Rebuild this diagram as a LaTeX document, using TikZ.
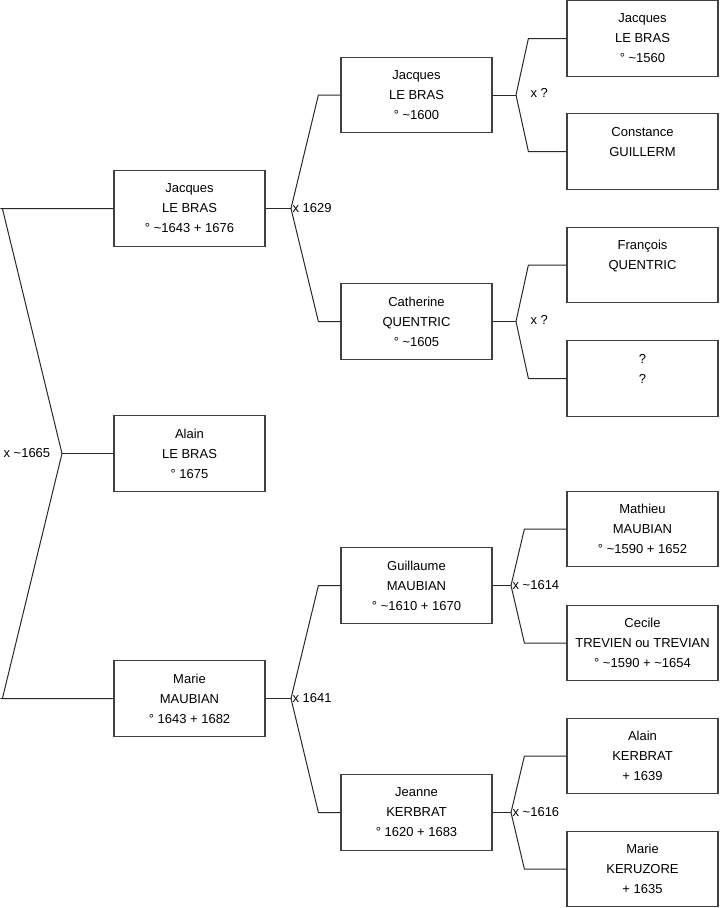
\documentclass[tikz,border=0pt]{standalone}
\usepackage{fontspec}
\setmainfont{Liberation Sans}
\usetikzlibrary{positioning}
\definecolor{boxline}{RGB}{64,64,64}
\definecolor{linkline}{RGB}{40,40,40}

\begin{document}
\begin{tikzpicture}[x=0.75pt,y=-0.75pt,
    person/.style={draw=boxline, line width=0.9pt, minimum width=113.25pt, minimum height=56.6pt,
      inner sep=0pt, align=center, font=\fontsize{9.75}{15}\selectfont},
    link/.style={draw=linkline, line width=0.75pt},
    mlabel/.style={inner sep=1pt, font=\fontsize{9.75}{12}\selectfont}]
    \useasboundingbox (0,0) rectangle (719,908);

    % generation 1
    \node[person] (jacquesA) at (189.5,208.5) {Jacques\\LE BRAS\\° \textasciitilde1643 + 1676};
    \node[person] (alain)    at (189.5,453.5) {Alain\\LE BRAS\\° 1675};
    \node[person] (marie)    at (189.5,698.5) {Marie\\MAUBIAN\\° 1643 + 1682};

    % generation 2
    \node[person] (jacquesB)  at (416.5,95)  {Jacques\\LE BRAS\\° \textasciitilde1600};
    \node[person] (catherine) at (416.5,321.5) {Catherine\\QUENTRIC\\° \textasciitilde1605};
    \node[person] (guillaume) at (416.5,585.5) {Guillaume\\MAUBIAN\\° \textasciitilde1610 + 1670};
    \node[person] (jeanne)    at (416.5,812.5) {Jeanne\\KERBRAT\\° 1620 + 1683};

    % generation 3
    \node[person] (jacquesC)  at (642.5,38.5)  {Jacques\\LE BRAS\\° \textasciitilde1560};
    \node[person] (constance) at (642.5,151.5) {Constance\\GUILLERM\\\mbox{}};
    \node[person] (francois)  at (642.5,265)   {François\\QUENTRIC\\\mbox{}};
    \node[person] (unknown)   at (642.5,378.5) {?\\?\\\mbox{}};
    \node[person] (mathieu)   at (642.5,529)   {Mathieu\\MAUBIAN\\° \textasciitilde1590 + 1652};
    \node[person] (cecile)    at (642.5,643)   {Cecile\\TREVIEN ou TREVIAN\\° \textasciitilde1590 + \textasciitilde1654};
    \node[person] (alainK)    at (642.5,756)   {Alain\\KERBRAT\\+ 1639};
    \node[person] (marieK)    at (642.5,869)   {Marie\\KERUZORE\\+ 1635};

    % marriage forks
    \coordinate (root) at (62,453.5);
    \coordinate (forkA) at (291,208.5);
    \coordinate (forkM) at (291,698.5);
    \coordinate (forkJ) at (516,95);
    \coordinate (forkC) at (516,321.5);
    \coordinate (forkG) at (511,585.5);
    \coordinate (forkK) at (511,812.5);

    \draw[link] (jacquesA.west) -- ++(-113,0) -- ++(2,0) -- (root);
    \draw[link] (marie.west) -- ++(-113,0) -- ++(2,0) -- (root);
    \draw[link] (alain.west) -- (root);

    \draw[link] (jacquesB.west) -- ++(-22,0) -- (forkA);
    \draw[link] (catherine.west) -- ++(-22,0) -- (forkA);
    \draw[link] (jacquesA.east) -- (forkA);

    \draw[link] (guillaume.west) -- ++(-22,0) -- (forkM);
    \draw[link] (jeanne.west) -- ++(-22,0) -- (forkM);
    \draw[link] (marie.east) -- (forkM);

    \draw[link] (jacquesC.west) -- ++(-38,0) -- (forkJ);
    \draw[link] (constance.west) -- ++(-38,0) -- (forkJ);
    \draw[link] (jacquesB.east) -- (forkJ);

    \draw[link] (francois.west) -- ++(-38,0) -- (forkC);
    \draw[link] (unknown.west) -- ++(-38,0) -- (forkC);
    \draw[link] (catherine.east) -- (forkC);

    \draw[link] (mathieu.west) -- ++(-42,0) -- (forkG);
    \draw[link] (cecile.west) -- ++(-42,0) -- (forkG);
    \draw[link] (guillaume.east) -- (forkG);

    \draw[link] (alainK.west) -- ++(-42,0) -- (forkK);
    \draw[link] (marieK.west) -- ++(-42,0) -- (forkK);
    \draw[link] (jeanne.east) -- (forkK);

    % marriage dates
    \node[mlabel, anchor=west] (mRoot) at (2,453.5) {x \textasciitilde1665};
    \node[mlabel, anchor=west] (mA) at (forkA) {x 1629};
    \node[mlabel, anchor=west] (mM) at (forkM) {x 1641};
    \node[mlabel, anchor=west] (mJ) at (529,93) {x ?};
    \node[mlabel, anchor=west] (mC) at (529,320) {x ?};
    \node[mlabel, anchor=west] (mG) at (forkG) {x \textasciitilde1614};
    \node[mlabel, anchor=west] (mK) at (forkK) {x \textasciitilde1616};
\end{tikzpicture}
\end{document}
